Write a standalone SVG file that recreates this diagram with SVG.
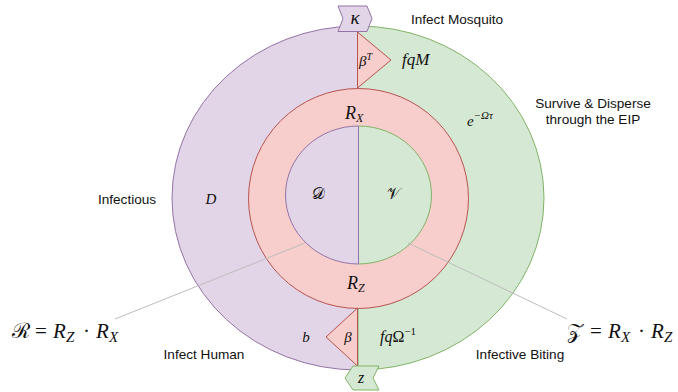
<svg xmlns="http://www.w3.org/2000/svg" width="678" height="392" viewBox="0 0 678 392">
<style>
.pu{fill:#e1d5e7;stroke:#9673a6;stroke-width:1}
.gr{fill:#d5e8d4;stroke:#82b366;stroke-width:1}
.rd{fill:#f8cecc;stroke:#b85450;stroke-width:1}
.lbl{font-family:"Liberation Sans",Arial,Helvetica,sans-serif;font-size:13.6px;fill:#111}
.m{font-family:"Liberation Serif","Times New Roman",serif;font-style:italic;fill:#111}
.mu{font-family:"Liberation Serif","Times New Roman",serif;font-style:normal;fill:#111}
.cal{font-family:"DejaVu Serif","Noto Sans",serif;font-style:normal;fill:#111}
.ln{stroke:#bdbdbd;stroke-width:1;fill:none}
</style>
<rect width="678" height="392" fill="#ffffff"/>
<g id="outer-left">
<path class="pu" d="M358,26 A186,172 0 0 0 358,370 Z"/>
<text class="m" x="211" y="204" font-size="15" text-anchor="middle">D</text>
<text class="m" x="306" y="342" font-size="15" text-anchor="middle">b</text>
</g>
<g id="outer-right">
<path class="gr" d="M358,26 A186,172 0 0 1 358,370 Z"/>
<text class="m" x="402" y="65" font-size="17">fqM</text>
<text class="m" x="467" y="126" font-size="15">e<tspan font-size="11" dy="-7">−Ωτ</tspan></text>
<text class="m" x="380" y="342" font-size="16">fq<tspan class="mu">Ω</tspan><tspan class="mu" font-size="11" dy="-7">−1</tspan></text>
</g>
<g id="ring">
<circle class="rd" cx="358.5" cy="198.5" r="110"/>
<text class="m" x="345" y="119" font-size="18">R<tspan font-size="12" dy="3">X</tspan></text>
<text class="m" x="347" y="289" font-size="18">R<tspan font-size="12" dy="3">Z</tspan></text>
</g>
<g id="inner-left">
<path class="pu" d="M358.5,126 A73,69 0 0 0 358.5,264 Z"/>
<text class="cal" x="318" y="199" font-size="16" text-anchor="middle">𝒟</text>
</g>
<g id="inner-right">
<path class="gr" d="M358.5,126 A73,69 0 0 1 358.5,264 Z"/>
<line x1="358.5" y1="126" x2="358.5" y2="264" stroke="#9673a6" stroke-width="1"/>
<text class="cal" x="393" y="199" font-size="16" text-anchor="middle">𝒱</text>
</g>
<g id="tri-top">
<path class="rd" d="M357.5,32 L391,60 L357.5,88 Z"/>
<text class="m" x="359" y="66" font-size="15">β<tspan font-size="10" dy="-6">T</tspan></text>
</g>
<g id="tri-bottom">
<path class="rd" d="M357.5,308 L326,337 L357.5,366 Z"/>
<text class="m" x="348" y="342" font-size="15" text-anchor="middle">β</text>
</g>
<g id="kappa">
<path class="pu" d="M338,6 L367,6 L372,18.5 L367,31.5 L338,31.5 L343,18.5 Z"/>
<text class="m" x="355" y="24" font-size="19" text-anchor="middle">κ</text>
</g>
<g id="z">
<path class="gr" d="M353,366 L379,366 L373,378 L379,390 L353,390 L345,378 Z"/>
<text class="m" x="361" y="383" font-size="16" text-anchor="middle">z</text>
</g>
<g id="connectors">
<line class="ln" x1="115" y1="319" x2="305" y2="243"/>
<line class="ln" x1="408" y1="243" x2="567" y2="319"/>
</g>
<g id="labels">
<text class="lbl" x="457" y="24" text-anchor="middle">Infect Mosquito</text>
<text class="lbl" x="593" y="108" text-anchor="middle">Survive &amp; Disperse</text>
<text class="lbl" x="593" y="124" text-anchor="middle">through the EIP</text>
<text class="lbl" x="127" y="204" text-anchor="middle">Infectious</text>
<text class="lbl" x="204" y="359" text-anchor="middle">Infect Human</text>
<text class="lbl" x="520" y="359" text-anchor="middle">Infective Biting</text>
</g>
<g id="eq-R" font-size="21">
<text class="cal" x="12" y="338">ℛ</text>
<text class="mu" x="35" y="338">=</text>
<text class="m" x="53" y="338">R</text>
<text class="m" x="66" y="342" font-size="15">Z</text>
<text class="mu" x="83" y="338">·</text>
<text class="m" x="96" y="338">R</text>
<text class="m" x="109" y="342" font-size="15">X</text>
</g>
<g id="eq-Z" font-size="21">
<text class="cal" x="567" y="338">𝒵</text>
<text class="mu" x="590" y="338">=</text>
<text class="m" x="608" y="338">R</text>
<text class="m" x="621" y="342" font-size="15">X</text>
<text class="mu" x="638" y="338">·</text>
<text class="m" x="651" y="338">R</text>
<text class="m" x="664" y="342" font-size="15">Z</text>
</g>
</svg>
